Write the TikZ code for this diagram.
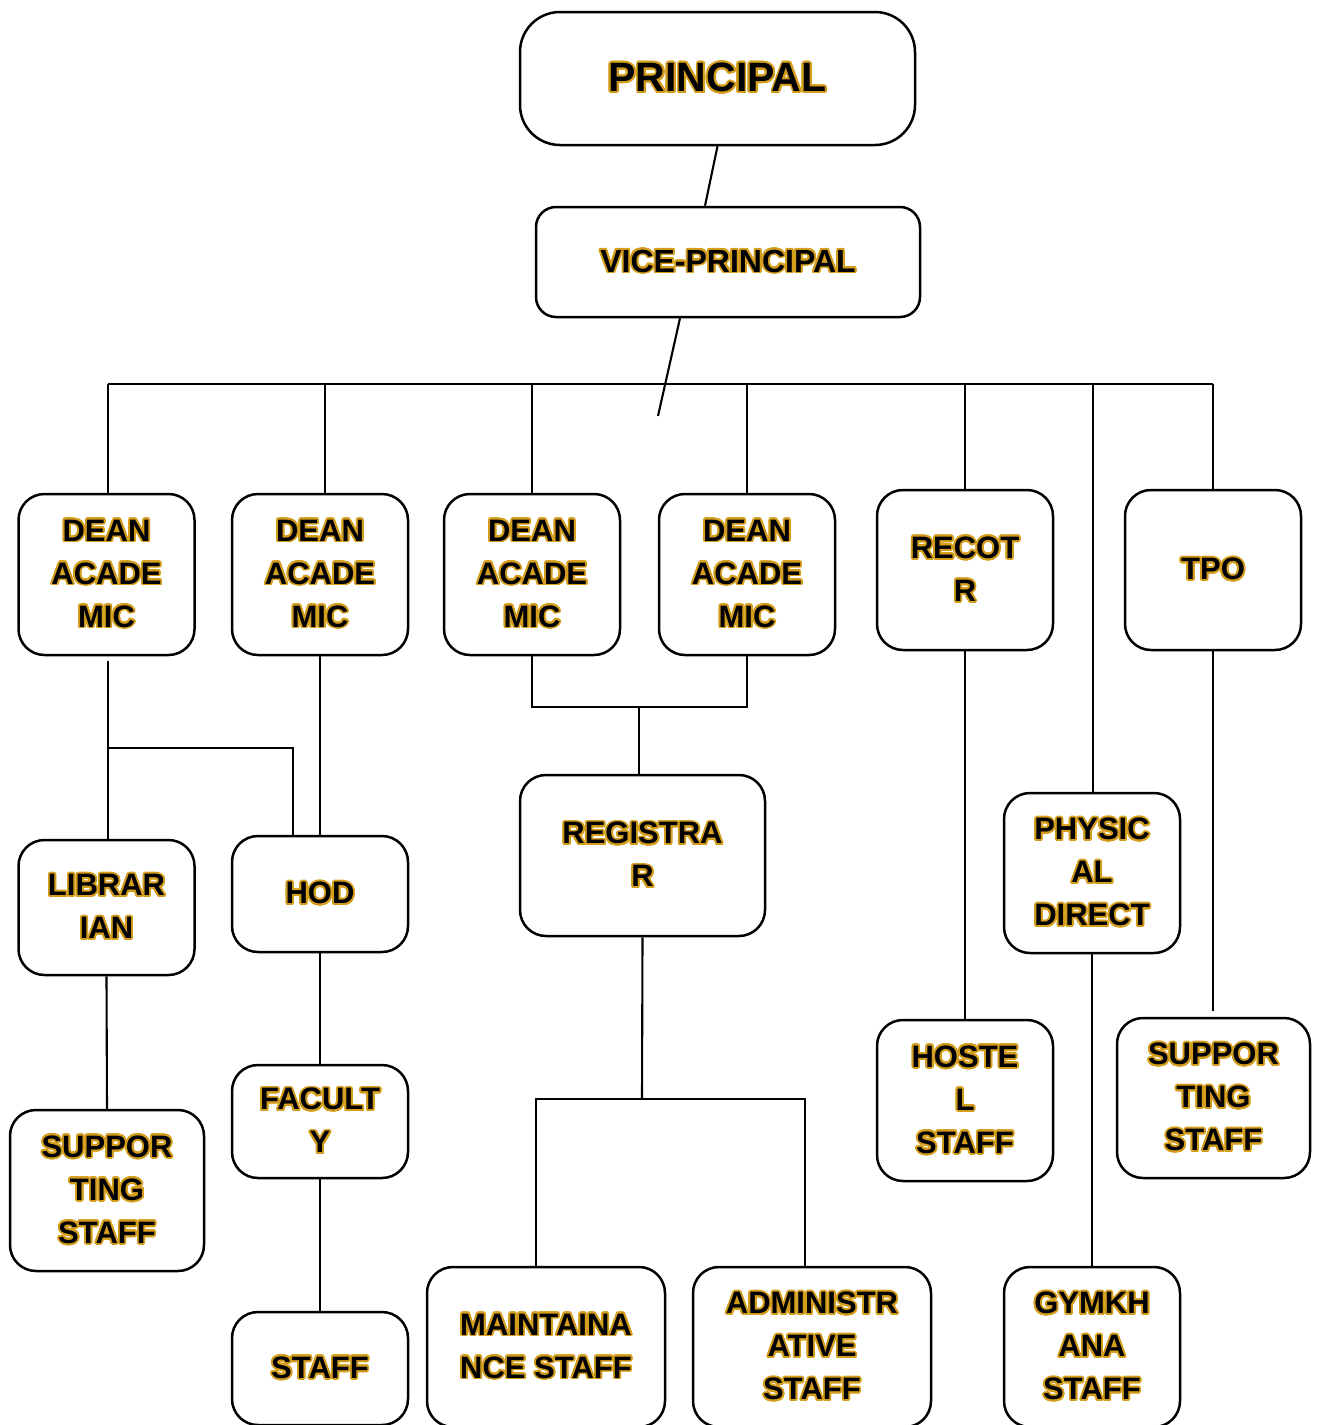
\documentclass[tikz,border=0pt]{standalone}
\usepackage{fontspec}
\setmainfont{Liberation Sans}
\usepackage{xcolor}
\usepackage[copies]{contour}
\usepackage{tikz}
\usetikzlibrary{calc}

\definecolor{goldrim}{RGB}{212,158,28}
\contourlength{0.9pt}
\contournumber{28}
\newcommand{\gl}[1]{\contour{goldrim}{#1}}

\begin{document}
\begin{tikzpicture}[
    x=0.5pt, y=-0.5pt,
    box/.style={draw, line width=1.25pt, rounded corners=13pt, align=center,
        minimum width=88pt, minimum height=80.5pt, inner sep=2pt,
        font=\bfseries\fontsize{15.5}{21.5}\selectfont},
    link/.style={line width=1.05pt},
]
\useasboundingbox (0,0) rectangle (1319,1425);
% top
\node[box, rounded corners=20pt, minimum width=197.5pt, minimum height=66.5pt, font=\bfseries\fontsize{20.5}{24}\selectfont] (principal) at (717.5,78.5) {\gl{PRINCIPAL}};
\node[box, rounded corners=10pt, minimum width=192pt, minimum height=55pt, font=\bfseries\fontsize{16}{20}\selectfont] (vice) at (728,262) {\gl{VICE-PRINCIPAL}};
% second row
\node[box] (dean1) at (106.5,574.5) {\gl{DEAN}\\\gl{ACADE}\\\gl{MIC}};
\node[box] (dean2) at (320,574.5) {\gl{DEAN}\\\gl{ACADE}\\\gl{MIC}};
\node[box] (dean3) at (532,574.5) {\gl{DEAN}\\\gl{ACADE}\\\gl{MIC}};
\node[box] (dean4) at (747,574.5) {\gl{DEAN}\\\gl{ACADE}\\\gl{MIC}};
\node[box, minimum height=80pt] (rector) at (965,570) {\gl{RECOT}\\\gl{R}};
\node[box, minimum height=80pt] (tpo) at (1213,570) {\gl{TPO}};
% third row
\node[box, minimum height=67.5pt] (librarian) at (106.5,907.5) {\gl{LIBRAR}\\\gl{IAN}};
\node[box, minimum height=58pt] (hod) at (320,894) {\gl{HOD}};
\node[box, minimum width=122.5pt] (registrar) at (642.5,855.5) {\gl{REGISTRA}\\\gl{R}};
\node[box, minimum height=80pt] (physical) at (1092,873) {\gl{PHYSIC}\\\gl{AL}\\\gl{DIRECT}};
% fourth row
\node[box, minimum width=97pt] (supp1) at (107,1190.5) {\gl{SUPPOR}\\\gl{TING}\\\gl{STAFF}};
\node[box, minimum height=56.5pt] (faculty) at (320,1121.5) {\gl{FACULT}\\\gl{Y}};
\node[box] (hostel) at (965,1100.5) {\gl{HOSTE}\\\gl{L}\\\gl{STAFF}};
\node[box, minimum width=96.5pt, minimum height=80pt] (supp2) at (1213.5,1098) {\gl{SUPPOR}\\\gl{TING}\\\gl{STAFF}};
% bottom row
\node[box, minimum height=56.5pt] (staff) at (320,1368.5) {\gl{STAFF}};
\node[box, minimum width=119pt, minimum height=80pt] (maint) at (546,1347) {\gl{MAINTAINA}\\\gl{NCE STAFF}};
\node[box, minimum width=119pt, minimum height=80pt] (admin) at (812,1347) {\gl{ADMINISTR}\\\gl{ATIVE}\\\gl{STAFF}};
\node[box, minimum height=80pt] (gym) at (1092,1347) {\gl{GYMKH}\\\gl{ANA}\\\gl{STAFF}};
% bus and joins
\coordinate (busL) at (108,384);
\coordinate (busR) at (1213,384);
\coordinate (vend) at (658,416);
\coordinate (split1) at (108,748);
\coordinate (deanjoin) at (639,707);
\coordinate (regjoin) at (642,1099);
% connectors
\draw[link] (principal.south) -- ($(vice.north)+(-23,0)$);
\draw[link] ($(vice.south)+(-48,0)$) -- (vend);
\draw[link] (busL) -- (busR);
\draw[link] ($(dean1.north)+(1.5,0)$) -- (busL);
\draw[link] ($(dean2.north)+(5,0)$) -- ($(dean2.north |- busL)+(5,0)$);
\draw[link] (dean3.north) -- (dean3.north |- busL);
\draw[link] (dean4.north) -- (dean4.north |- busL);
\draw[link] (rector.north) -- (rector.north |- busL);
\draw[link] ($(physical.north)+(1,0)$) -- ($(physical.north |- busL)+(1,0)$);
\draw[link] (tpo.north) -- (busR);
\draw[link] ($(dean1.south)+(1.5,5)$) -- ($(librarian.north)+(1.5,0)$);
\draw[link] (split1) -| ($(hod.north)+(-27,0)$);
\draw[link] (dean2.south) -- (hod.north);
\draw[link] (librarian.south) -- (supp1.north);
\draw[link] (hod.south) -- (faculty.north);
\draw[link] (faculty.south) -- (staff.north);
\draw[link] (dean3.south) |- (deanjoin) -| (dean4.south);
\draw[link] (deanjoin) -- ($(registrar.north)+(-3.5,0)$);
\draw[link] (registrar.south) -- (regjoin);
\draw[link] ($(maint.north)+(-10,0)$) |- (regjoin) -| ($(admin.north)+(-7,0)$);
\draw[link] (rector.south) -- (hostel.north);
\draw[link] (physical.south) -- (gym.north);
\draw[link] (tpo.south) -- ($(supp2.north)+(-0.5,-6)$);
\end{tikzpicture}
\end{document}
